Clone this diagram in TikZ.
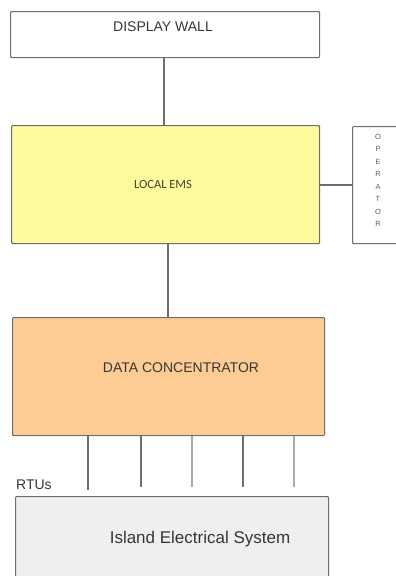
\documentclass[tikz,border=0pt]{standalone}
\usepackage{fontspec}
\setmainfont{Liberation Sans}
\newfontfamily\calfont{Carlito}
\definecolor{edge}{HTML}{6E6E6E}
\definecolor{txt}{HTML}{363636}
\definecolor{emsfill}{HTML}{FFFB9C}
\definecolor{dcfill}{HTML}{FDCB94}
\definecolor{islfill}{HTML}{EFEFEF}
\definecolor{lightline}{HTML}{ABABAB}
\tikzset{
  boxnode/.style={draw=edge, line width=1.1pt, rounded corners=1pt, inner sep=0pt, anchor=north west},
  conn/.style={draw=edge, line width=1.1pt},
  lbl/.style={text=txt, inner sep=0pt, anchor=base}
}
\begin{document}
\begin{tikzpicture}[x=1pt,y=-1pt]
\clip (0,0) rectangle (396,576);
\fill[white] (0,0) rectangle (396,576);
% boxes
\node[boxnode, fill=white, minimum width=309pt, minimum height=46pt] (disp) at (10,11) {};
\node[boxnode, fill=emsfill, minimum width=308pt, minimum height=118pt] (ems) at (11,125) {};
\node[boxnode, fill=white, minimum width=60pt, minimum height=117pt] (oper) at (352,126) {};
\node[boxnode, fill=dcfill, minimum width=312pt, minimum height=118pt] (dc) at (12,317) {};
\node[boxnode, fill=islfill, minimum width=313pt, minimum height=100pt] (isl) at (15,496) {};
% labels
\node[lbl, font=\fontsize{14}{16}\selectfont] (tdisp) at (163,31.5) {DISPLAY WALL};
\node[lbl, font=\calfont\fontsize{12.5}{14}\selectfont, text=black!85!yellow] (tems) at (163,188.3) {LOCAL EMS};
\node[lbl, font=\fontsize{14}{16}\selectfont] (tdc) at (181,372.5) {DATA CONCENTRATOR};
\node[lbl, font=\fontsize{17}{19}\selectfont] (tisl) at (200,543.3) {Island Electrical System};
\node[lbl, anchor=base west, font=\fontsize{14}{16}\selectfont] (trtu) at (16,489.3) {RTUs};
\node[text=txt!80, inner sep=0pt, align=center, font=\fontsize{7.5}{12.5}\selectfont, anchor=north] (toper) at (378,134) {O\\P\\E\\R\\A\\T\\O\\R};
% connectors
\coordinate (d1) at (164,57);
\draw[conn] (d1) -- (d1 |- ems.north);
\coordinate (e1) at (168,243);
\draw[conn] (e1) -- (e1 |- dc.north);
\coordinate (e2) at (319,185);
\draw[conn] (e2) -- (e2 -| oper.west);
% RTU lines
\coordinate (r1) at (88,490);
\coordinate (r2) at (141,487);
\coordinate (r3) at (192,487);
\coordinate (r4) at (243,487);
\coordinate (r5) at (294,487);
\draw[conn] (r1 |- dc.south) -- (r1);
\draw[conn] (r2 |- dc.south) -- (r2);
\draw[conn, draw=lightline] (r3 |- dc.south) -- (r3);
\draw[conn] (r4 |- dc.south) -- (r4);
\draw[conn, draw=lightline] (r5 |- dc.south) -- (r5);
\end{tikzpicture}
\end{document}
